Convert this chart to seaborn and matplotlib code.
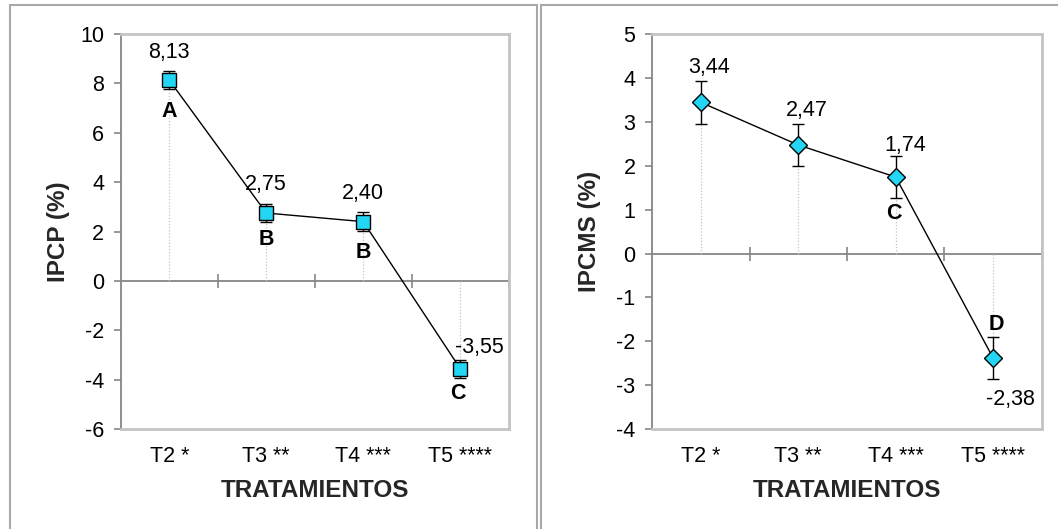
import numpy as np
import pandas as pd
import matplotlib
matplotlib.use("Agg")
import matplotlib.pyplot as plt
from matplotlib.patches import Rectangle
import seaborn as sns

# Data
tratamientos = ["T2 *", "T3 **", "T4 ***", "T5 ****"]
ipcp = [8.13, 2.75, 2.40, -3.55]
ipcp_err = [0.37, 0.37, 0.39, 0.37]
ipcp_letras = ["A", "B", "B", "C"]
ipcms = [3.44, 2.47, 1.74, -2.38]
ipcms_err = [0.49, 0.48, 0.48, 0.48]
ipcms_letras = ["", "", "C", "D"]

sns.set_theme(style="white")
plt.rcParams["font.family"] = ["Liberation Sans", "DejaVu Sans"]
plt.rcParams["axes.unicode_minus"] = False

CYAN = "#22D6F4"
AXGRAY = "#868686"
LIGHTGRAY = "#C4C4C4"
FS_TICK = 15.5
FS_LABEL = 17.5

fig = plt.figure(figsize=(10.58, 5.29), dpi=100)

# panel frames
fig.add_artist(Rectangle((9.5 / 1058, -0.2), (537 - 9.5) / 1058, 1.2 - 5 / 529,
                         transform=fig.transFigure, fill=False,
                         ec="#A8A8A8", lw=1.5))
fig.add_artist(Rectangle((541 / 1058, -0.2), 0.6, 1.2 - 5 / 529,
                         transform=fig.transFigure, fill=False,
                         ec="#A8A8A8", lw=1.5))

ax1 = fig.add_axes([0.1141, 0.1885, 0.3668, 0.7476])
ax2 = fig.add_axes([0.6163, 0.1885, 0.3685, 0.7476])


def draw_panel(ax, values, errs, letters, marker, msize, ylim, ystep, ylabel,
               value_offsets, letter_offsets):
    pos = np.arange(len(tratamientos))
    df = pd.DataFrame({"pos": pos, "valor": values})

    # dotted drop lines to the zero axis
    ax.vlines(pos, 0, values, colors=LIGHTGRAY, linestyles=(0, (1, 1.5)),
              lw=0.9, zorder=1)

    ax.errorbar(pos, values, yerr=errs, fmt="none", ecolor="black",
                elinewidth=1.0, capsize=4.2, capthick=1.0, zorder=2)

    sns.lineplot(data=df, x="pos", y="valor", sort=False, ax=ax,
                 color="black", lw=1.0, marker=marker, markersize=msize,
                 markerfacecolor=CYAN, markeredgecolor="black",
                 markeredgewidth=1.0, zorder=3)

    ax.set_xlim(-0.5, len(tratamientos) - 0.5)
    ax.set_ylim(*ylim)
    ax.set_yticks(np.arange(ylim[0], ylim[1] + 0.5, ystep))

    ax.set_xticks(pos)
    ax.set_xticklabels(tratamientos)
    ax.tick_params(axis="x", length=0, pad=12, labelsize=FS_TICK, colors="black")
    ax.tick_params(axis="y", direction="out", length=5, width=1.2,
                   color=AXGRAY, pad=7, labelsize=FS_TICK, labelcolor="black",
                   left=True)

    for side in ["top", "right", "bottom"]:
        ax.spines[side].set_color(LIGHTGRAY)
        ax.spines[side].set_linewidth(2)
    ax.spines["left"].set_color(AXGRAY)
    ax.spines["left"].set_linewidth(1.3)

    # category axis crossing at zero
    zero_frac = (0 - ylim[0]) / (ylim[1] - ylim[0])
    sec = ax.secondary_xaxis(zero_frac)
    sec.set_xticks(list(pos + 0.5))
    sec.tick_params(direction="inout", length=10, width=1.2, color=AXGRAY,
                    labelbottom=False, labeltop=False, bottom=True, top=False)
    for sp in sec.spines.values():
        sp.set_visible(False)
    sec.spines["bottom"].set_visible(True)
    sec.spines["bottom"].set_color(AXGRAY)
    sec.spines["bottom"].set_linewidth(1.3)

    ax.set_xlabel("TRATAMIENTOS", fontsize=FS_LABEL, fontweight="bold")
    ax.xaxis.set_label_coords(0.5, -0.125)
    ax.set_ylabel(ylabel, fontsize=FS_LABEL, fontweight="bold")
    ax.yaxis.set_label_coords(-0.13, 0.5)

    for x, v, (dx, dy) in zip(pos, values, value_offsets):
        ax.annotate(f"{v:.2f}".replace(".", ","), (x, v), xytext=(dx, dy),
                    textcoords="offset points", ha="center", va="center",
                    fontsize=FS_TICK, color="black", zorder=4)
    for x, v, lt, (dx, dy) in zip(pos, values, letters, letter_offsets):
        if lt:
            ax.annotate(lt, (x, v), xytext=(dx, dy), textcoords="offset points",
                        ha="center", va="center", fontsize=FS_TICK,
                        fontweight="bold", color="black", zorder=4)


draw_panel(ax1, ipcp, ipcp_err, ipcp_letras, "s", 9.5, (-6, 10), 2, "IPCP (%)",
           value_offsets=[(0, 20), (0, 20.5), (0, 20), (14, 15)],
           letter_offsets=[(0, -23), (0, -19), (0, -22), (-1.5, -18)])
draw_panel(ax2, ipcms, ipcms_err, ipcms_letras, "D", 9, (-4, 5), 1, "IPCMS (%)",
           value_offsets=[(6, 25), (6, 24.5), (7, 22.5), (12.5, -30)],
           letter_offsets=[(0, 0), (0, 0), (-1, -26.5), (2, 24.5)])

fig.savefig("out.png", dpi=100)
